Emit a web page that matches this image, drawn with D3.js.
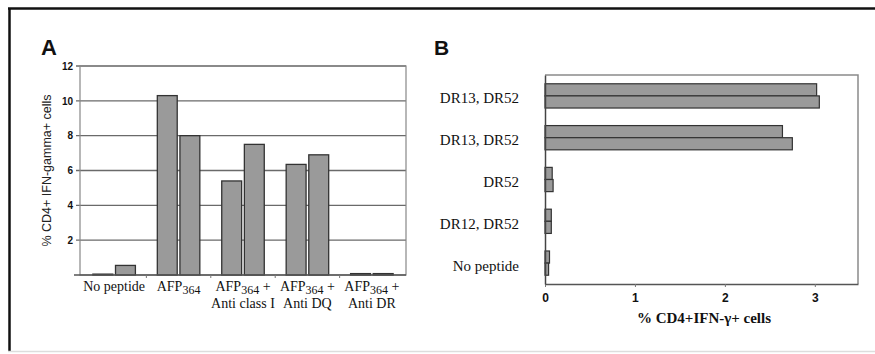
<!DOCTYPE html>
<html>
<head>
<meta charset="utf-8">
<script src="https://cdn.jsdelivr.net/npm/d3@7"></script>
<style>
  body { margin: 0; background: #fff; }
  svg { display: block; }
  .serif { font-family: "Liberation Serif", "Times New Roman", serif; }
  .sans { font-family: "Liberation Sans", Arial, sans-serif; }
</style>
</head>
<body>
<svg id="chart" width="875" height="354"></svg>
<script>
// Panel A: % CD4+ IFN-gamma+ cells, two bars per condition
const aCategories = ["No peptide", "AFP_364", "AFP_364 +|Anti class I", "AFP_364 +|Anti DQ", "AFP_364 +|Anti DR"];
const aSeries1 = [0.05, 10.3, 5.4, 6.35, 0.08];
const aSeries2 = [0.55, 8.0, 7.5, 6.9, 0.08];
const aTicks = [2, 4, 6, 8, 10, 12];

// Panel B: % CD4+IFN-γ+ cells, top to bottom
const bCategories = ["DR13, DR52", "DR13, DR52 ", "DR52", "DR12, DR52", "No peptide"];
const bSeries1 = [3.02, 2.64, 0.08, 0.07, 0.05];
const bSeries2 = [3.05, 2.75, 0.09, 0.07, 0.04];
const bTicks = [0, 1, 2, 3];

const svg = d3.select("#chart");
const barFill = "#9a9a9a", barStroke = "#333";

// outer frame
svg.append("line").attr("x1", 9.5).attr("x2", 9.5).attr("y1", 8).attr("y2", 352)
    .attr("stroke", "#111").attr("stroke-width", 2.5);
svg.append("line").attr("x1", 8).attr("x2", 875).attr("y1", 8.5).attr("y2", 8.5)
    .attr("stroke", "#111").attr("stroke-width", 2.5);
svg.append("line").attr("x1", 8).attr("x2", 875).attr("y1", 351.5).attr("y2", 351.5)
    .attr("stroke", "#ddd").attr("stroke-width", 1.5);

// ---------- Panel A ----------
const A = { left: 80, right: 406, top: 66, bottom: 275 };
const xA = d3.scaleBand().domain(aCategories).range([A.left, A.right]).paddingInner(0.34).paddingOuter(0.2);
const xA2 = d3.scaleBand().domain([0, 1]).range([0, xA.bandwidth()]).paddingInner(0.12);
const yA = d3.scaleLinear().domain([0, 12]).range([A.bottom, A.top]);

const gA = svg.append("g");

// gridlines
gA.append("g").selectAll("line").data(aTicks).join("line")
    .attr("x1", A.left - 4).attr("x2", A.right)
    .attr("y1", d => yA(d)).attr("y2", d => yA(d))
    .attr("stroke", "#6a6a6a").attr("stroke-width", 1.4);

// left tick labels
gA.append("g")
    .attr("transform", `translate(${A.left},0)`)
    .call(d3.axisLeft(yA).tickValues(aTicks).tickSize(0).tickPadding(7))
    .call(g => g.select(".domain").remove())
    .call(g => g.selectAll(".tick text").attr("class", "sans").attr("font-size", 10)
        .attr("font-weight", "bold").attr("fill", "#111"));

// plot frame
gA.append("rect").attr("x", A.left).attr("y", A.top)
    .attr("width", A.right - A.left).attr("height", A.bottom - A.top)
    .attr("fill", "none").attr("stroke", "#888").attr("stroke-width", 1.2);

// bars
const aRows = aCategories.map((c, i) => ({ c, v: [aSeries1[i], aSeries2[i]] }));
gA.append("g").selectAll("g").data(aRows).join("g")
    .attr("transform", d => `translate(${xA(d.c)},0)`)
    .selectAll("rect").data(d => d.v.map((v, k) => ({ k, v }))).join("rect")
    .attr("x", d => xA2(d.k))
    .attr("y", d => yA(d.v))
    .attr("width", xA2.bandwidth())
    .attr("height", d => yA(0) - yA(d.v))
    .attr("fill", barFill).attr("stroke", barStroke).attr("stroke-width", 1.3);

// x axis baseline with category boundary ticks
const bounds = aCategories.slice(1).map(c => xA(c) - xA.step() * xA.paddingInner() / 2);
gA.append("line").attr("x1", A.left - 6).attr("x2", A.right).attr("y1", A.bottom).attr("y2", A.bottom)
    .attr("stroke", "#555").attr("stroke-width", 1.5);
gA.append("g").selectAll("line").data(bounds).join("line")
    .attr("x1", d => d).attr("x2", d => d).attr("y1", A.bottom).attr("y2", A.bottom + 3)
    .attr("stroke", "#777");

// category labels
const labA = gA.append("g").attr("class", "serif").attr("font-size", 14).attr("fill", "#111")
    .attr("text-anchor", "middle");
aCategories.forEach(c => {
    const cx = xA(c) + xA.bandwidth() / 2;
    const [l1, l2] = c.split("|");
    const t = labA.append("text").attr("x", cx).attr("y", A.bottom + 16);
    const parts = l1.split("_");
    t.append("tspan").text(parts[0]);
    if (parts.length > 1) {
        const m = parts[1].match(/^(\d+)(.*)$/);
        t.append("tspan").attr("font-size", 12).attr("dy", 3).text(m[1]);
        if (m[2]) t.append("tspan").attr("dy", -3).text(m[2]);
    }
    if (l2) labA.append("text").attr("x", cx).attr("y", A.bottom + 33).text(l2);
});

// y axis title
gA.append("text").attr("class", "sans").attr("font-size", 12.5).attr("fill", "#222")
    .attr("text-anchor", "middle")
    .attr("transform", `translate(51,${(A.top + A.bottom) / 2}) rotate(-90)`)
    .text("% CD4+ IFN-gamma+ cells");

// panel letter
svg.append("text").attr("class", "sans").attr("x", 41).attr("y", 55)
    .attr("font-size", 22).attr("font-weight", "bold").attr("fill", "#111").text("A");

// ---------- Panel B ----------
const B = { left: 545, right: 858, top: 75, bottom: 284 };
const xB = d3.scaleLinear().domain([0, 3.48]).range([B.left, B.right]);
const yB = d3.scaleBand().domain(bCategories).range([B.top, B.bottom]).paddingInner(0.42).paddingOuter(0.21);
const yB2 = d3.scaleBand().domain([0, 1]).range([0, yB.bandwidth()]);

const gB = svg.append("g");

// frame
gB.append("path")
    .attr("d", `M${B.left},${B.top}H${B.right}V${B.bottom}`)
    .attr("fill", "none").attr("stroke", "#8a8a8a").attr("stroke-width", 1.5);

// bars
const bRows = bCategories.map((c, i) => ({ c, v: [bSeries1[i], bSeries2[i]] }));
gB.append("g").selectAll("g").data(bRows).join("g")
    .attr("transform", d => `translate(0,${yB(d.c)})`)
    .selectAll("rect").data(d => d.v.map((v, k) => ({ k, v }))).join("rect")
    .attr("x", xB(0))
    .attr("y", d => yB2(d.k))
    .attr("width", d => xB(d.v) - xB(0))
    .attr("height", yB2.bandwidth())
    .attr("fill", barFill).attr("stroke", barStroke).attr("stroke-width", 1.2);

// x axis
gB.append("g")
    .attr("transform", `translate(0,${B.bottom})`)
    .call(d3.axisBottom(xB).tickValues(bTicks).tickFormat(d3.format("d")).tickSize(3).tickSizeOuter(0).tickPadding(6))
    .call(g => g.select(".domain").attr("stroke", "#555").attr("stroke-width", 1.5))
    .call(g => g.selectAll(".tick line").attr("stroke", "#777"))
    .call(g => g.selectAll(".tick text").attr("class", "sans").attr("font-size", 12)
        .attr("font-weight", "bold").attr("fill", "#111"));

// y axis
gB.append("g")
    .attr("transform", `translate(${B.left},0)`)
    .call(d3.axisLeft(yB).tickSize(0).tickPadding(26))
    .call(g => g.select(".domain").attr("stroke", "#444").attr("stroke-width", 1.5))
    .call(g => g.selectAll(".tick text").attr("class", "serif").attr("font-size", 15)
        .attr("fill", "#111").attr("dy", "0.5em"));

// x axis title
gB.append("text").attr("class", "serif").attr("font-size", 15).attr("font-weight", "bold")
    .attr("fill", "#111").attr("text-anchor", "middle")
    .attr("x", 704).attr("y", 323)
    .text("% CD4+IFN-γ+ cells");

svg.append("text").attr("class", "sans").attr("x", 434).attr("y", 55)
    .attr("font-size", 21).attr("font-weight", "bold").attr("fill", "#111").text("B");
</script>
</body>
</html>
